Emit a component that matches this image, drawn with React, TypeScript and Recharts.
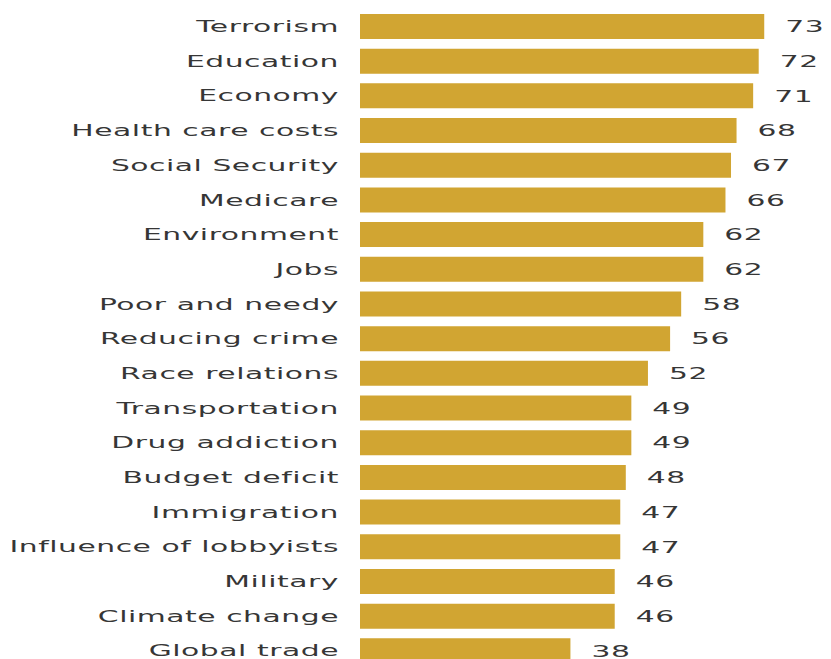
import React from 'react';
import { BarChart, Bar, XAxis, YAxis, LabelList } from 'recharts';

const issues = [
  'Terrorism',
  'Education',
  'Economy',
  'Health care costs',
  'Social Security',
  'Medicare',
  'Environment',
  'Jobs',
  'Poor and needy',
  'Reducing crime',
  'Race relations',
  'Transportation',
  'Drug addiction',
  'Budget deficit',
  'Immigration',
  'Influence of lobbyists',
  'Military',
  'Climate change',
  'Global trade',
];

const shares = [73, 72, 71, 68, 67, 66, 62, 62, 58, 56, 52, 49, 49, 48, 47, 47, 46, 46, 38];

const data = issues.map((issue, i) => ({ issue, value: shares[i] }));

const FONT = '"DejaVu Sans", sans-serif';
const STRETCH = 1.86;

// the original type is a very wide grotesque, so stretch DejaVu sideways
const IssueTick = (props: any) => {
  const { x, y, payload } = props;
  return (
    <g transform={`translate(${x},${y}) scale(${STRETCH},1)`}>
      <text
        x={0}
        y={0}
        dy="0.36em"
        textAnchor="end"
        fontFamily={FONT}
        fontSize={16}
        letterSpacing={0.3}
        fill="#363636"
      >
        {payload.value}
      </text>
    </g>
  );
};

const ValueLabel = (props: any) => {
  const { x, y, width, height, value } = props;
  return (
    <g transform={`translate(${x + width + 21},${y + height / 2}) scale(${STRETCH},1)`}>
      <text
        x={0}
        y={0}
        dy="0.36em"
        textAnchor="start"
        fontFamily={FONT}
        fontSize={16}
        letterSpacing={0.3}
        fill="#363636"
      >
        {value}
      </text>
    </g>
  );
};

const App = () => {
  return (
    <div style={{ margin: -8, width: 831, height: 668 }}>
      <BarChart
        width={831}
        height={668}
        data={data}
        layout="vertical"
        margin={{ top: 9, right: 28, bottom: 0, left: 0 }}
      >
        <XAxis type="number" domain={[0, 80]} hide />
        <YAxis
          type="category"
          dataKey="issue"
          width={360}
          axisLine={false}
          tickLine={false}
          tickMargin={15}
          interval={0}
          tick={<IssueTick />}
        />
        <Bar dataKey="value" fill="#D1A532" barSize={25} isAnimationActive={false}>
          <LabelList dataKey="value" content={<ValueLabel />} />
        </Bar>
      </BarChart>
    </div>
  );
};

export default App;
